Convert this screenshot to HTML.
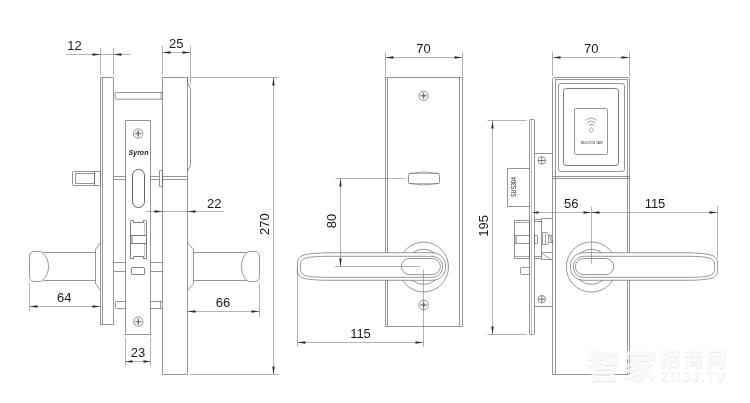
<!DOCTYPE html>
<html lang="zh">
<head>
<meta charset="utf-8">
<title>Syron lock dimensions</title>
<style>
html,body{margin:0;padding:0;background:#fff;}
body{width:750px;height:403px;overflow:hidden;position:relative;}
svg{display:block;position:absolute;left:0;top:0;will-change:transform;}
svg text{font-family:"Liberation Sans","Noto Sans CJK SC",sans-serif;fill:#1a1a1a;stroke:none;}
.wm{position:absolute;left:0;top:0;width:750px;height:403px;font-family:"Liberation Sans","Noto Sans CJK SC",sans-serif;color:rgba(255,255,255,0.8);font-weight:900;text-shadow:0.5px 0.5px 0.4px rgba(0,0,0,0.09),-0.3px -0.3px 0.3px rgba(0,0,0,0.03);line-height:1;white-space:nowrap;will-change:transform;}
.wm span{position:absolute;display:block;}
.wm .a{left:586px;top:349px;font-size:34px;letter-spacing:2px;}
.wm .b{left:659.5px;top:349px;font-size:20.5px;letter-spacing:2.6px;}
.wm .c{left:660px;top:369px;font-size:14.5px;letter-spacing:1.25px;font-weight:bold;}
</style>
</head>
<body>
<svg width="750" height="403" viewBox="0 0 750 403" fill="none" stroke="#505050" stroke-width="0.6" stroke-linecap="butt" stroke-linejoin="round">
<rect x="100.5" y="77.5" width="13" height="247"/>
<line x1="102.5" y1="77.5" x2="102.5" y2="324.5"/>
<path d="M162.5,374.5V77.5H187.5V374.5Z"/>
<path d="M187.5,77.5H187.5V82.5L190.5,88.5V165.5L187.5,171.5"/>
<path d="M162.7,92.5 H116.2 Q115.2,92.5 115.2,93.5 V98.2 Q115.2,99.2 116.2,99.2 H162.7 M161.2,92.5 V99.2"/>
<rect x="125.5" y="120.5" width="25" height="214" fill="#fff"/>
<circle cx="138.1" cy="133.5" r="4.7" stroke-width="0.6" fill="#fff"/>
<path d="M134.9,133.5 H141.29999999999998 M138.1,130.3 V136.7" stroke-width="1.4" stroke="#8a8a8a"/>
<path d="M136.9,133.5 H139.29999999999998 M138.1,130.9 V136.1" stroke-width="0.5" stroke="#555"/>
<circle cx="138.3" cy="321.6" r="4.7" stroke-width="0.6" fill="#fff"/>
<path d="M135.10000000000002,321.6 H141.5 M138.3,318.40000000000003 V324.8" stroke-width="1.4" stroke="#8a8a8a"/>
<path d="M137.10000000000002,321.6 H139.5 M138.3,319.0 V324.20000000000005" stroke-width="0.5" stroke="#555"/>
<text x="138.5" y="154.8" font-size="7" text-anchor="middle" font-weight="bold" font-style="italic" fill="#000" stroke="#000" stroke-width="0.15">Syron</text>
<rect x="132.5" y="169.5" width="12" height="38" rx="5.85" stroke-width="0.9"/>
<path d="M130.5,222.5V221.5Q130.5,220.5,131.5,220.5H133.5V222.5H143.5V220.5H145.5Q146.5,220.5,146.5,221.5V258.5Q146.5,258.5,145.5,258.5H143.5V256.5H133.5V258.5H131.5Q130.5,258.5,130.5,258.5Z" stroke-width="0.75"/>
<line x1="130.4" y1="235.5" x2="146.1" y2="235.5" stroke-width="0.75"/>
<line x1="130.4" y1="243.5" x2="146.1" y2="243.5" stroke-width="0.75"/>
<line x1="131.5" y1="235.6" x2="131.5" y2="243.1" stroke-width="0.4"/>
<line x1="132.5" y1="235.6" x2="132.5" y2="243.1" stroke-width="0.4"/>
<line x1="144.5" y1="222.2" x2="144.5" y2="235.6" stroke-width="0.35"/>
<line x1="144.5" y1="243.1" x2="144.5" y2="256.9" stroke-width="0.35"/>
<rect x="131.5" y="267.5" width="13" height="7" rx="0.8" stroke-width="0.7"/>
<rect x="72.5" y="171.5" width="28" height="14" rx="1"/>
<rect x="75.5" y="173.5" width="19" height="10"/>
<line x1="94.5" y1="171" x2="94.5" y2="185.8"/>
<line x1="113.5" y1="176.5" x2="125.4" y2="176.5"/>
<line x1="150.6" y1="176.5" x2="159.2" y2="176.5"/>
<line x1="162.7" y1="176.5" x2="187.3" y2="176.5"/>
<line x1="113.5" y1="179.5" x2="125.4" y2="179.5"/>
<line x1="150.6" y1="179.5" x2="159.2" y2="179.5"/>
<line x1="162.7" y1="179.5" x2="187.3" y2="179.5"/>
<rect x="159.5" y="170.5" width="3" height="16"/>
<line x1="113.5" y1="262.5" x2="125.4" y2="262.5"/>
<line x1="150.6" y1="262.5" x2="162.7" y2="262.5"/>
<line x1="113.5" y1="271.5" x2="125.4" y2="271.5"/>
<line x1="150.6" y1="271.5" x2="162.7" y2="271.5"/>
<path d="M125.5,301.5 H116.5 Q115.5,301.5 115.5,302.5 V307.5 Q115.5,308.5 116.5,308.5 H125.5"/>
<path d="M150.5,301.5 H162.5 M150.5,308.5 H162.5 M160.5,301.5 V308.5"/>
<path d="M100.5,242.5L95.5,249.5V283.5L100.5,290.5"/>
<path d="M95.5,252.5H43.5M95.5,280.5H43.5"/>
<path d="M34.5,251.5H40.5C44.5,253.5,48.5,259.5,48.5,266.5C48.5,273.5,44.5,279.5,40.5,281.5H34.5Q29.5,281.5,29.5,276.5V256.5Q29.5,251.5,34.5,251.5Z" fill="#fff"/>
<path d="M187.5,242.5L193.5,249.5V283.5L187.5,290.5"/>
<path d="M193.5,252.5H247.5M193.5,280.5H247.5"/>
<path d="M254.5,251.5H248.5C244.5,253.5,241.5,259.5,241.5,266.5C241.5,273.5,244.5,279.5,248.5,281.5H254.5Q259.5,281.5,259.5,276.5V256.5Q259.5,251.5,254.5,251.5Z" fill="#fff"/>
<line x1="100.5" y1="48" x2="100.5" y2="75" stroke-width="0.5" stroke="#666"/>
<line x1="113.5" y1="48" x2="113.5" y2="75" stroke-width="0.5" stroke="#666"/>
<line x1="66" y1="54.5" x2="131" y2="54.5" stroke-width="0.5" stroke="#666"/>
<polygon points="100.5,54.5 92.5,53.3 92.5,55.7" fill="#2a2a2a" stroke="none"/>
<polygon points="113.5,54.5 121.5,53.3 121.5,55.7" fill="#2a2a2a" stroke="none"/>
<text x="74.5" y="50" font-size="13" text-anchor="middle">12</text>
<line x1="162.5" y1="46" x2="162.5" y2="75" stroke-width="0.5" stroke="#666"/>
<line x1="190.5" y1="46" x2="190.5" y2="84" stroke-width="0.5" stroke="#666"/>
<line x1="162.7" y1="52.5" x2="190.3" y2="52.5" stroke-width="0.5" stroke="#666"/>
<polygon points="162.5,52.5 170.5,51.3 170.5,53.7" fill="#2a2a2a" stroke="none"/>
<polygon points="190.5,52.5 182.5,51.3 182.5,53.7" fill="#2a2a2a" stroke="none"/>
<text x="176.3" y="48.4" font-size="13" text-anchor="middle">25</text>
<line x1="190.6" y1="77.5" x2="278.5" y2="77.5" stroke-width="0.5" stroke="#666"/>
<line x1="190" y1="374.5" x2="278.5" y2="374.5" stroke-width="0.5" stroke="#666"/>
<line x1="273.5" y1="77.4" x2="273.5" y2="374.2" stroke-width="0.5" stroke="#666"/>
<polygon points="273.5,77.5 272.3,85.5 274.7,85.5" fill="#2a2a2a" stroke="none"/>
<polygon points="273.5,374.5 272.3,366.5 274.7,366.5" fill="#2a2a2a" stroke="none"/>
<text x="268.8" y="224.2" font-size="13" text-anchor="middle" transform="rotate(-90 268.8 224.2)">270</text>
<line x1="146" y1="211.5" x2="224" y2="211.5" stroke-width="0.5" stroke="#666"/>
<polygon points="162.5,211.5 154.5,210.3 154.5,212.7" fill="#2a2a2a" stroke="none"/>
<polygon points="187.5,211.5 195.5,210.3 195.5,212.7" fill="#2a2a2a" stroke="none"/>
<text x="214.3" y="207.6" font-size="13" text-anchor="middle">22</text>
<line x1="29.5" y1="283" x2="29.5" y2="311" stroke-width="0.5" stroke="#666"/>
<line x1="29.5" y1="306.5" x2="100" y2="306.5" stroke-width="0.5" stroke="#666"/>
<polygon points="29.5,306.5 37.5,305.3 37.5,307.7" fill="#2a2a2a" stroke="none"/>
<polygon points="100.5,306.5 92.5,305.3 92.5,307.7" fill="#2a2a2a" stroke="none"/>
<text x="64.3" y="302.3" font-size="13" text-anchor="middle">64</text>
<line x1="259.5" y1="283" x2="259.5" y2="317" stroke-width="0.5" stroke="#666"/>
<line x1="187.3" y1="311.5" x2="259.6" y2="311.5" stroke-width="0.5" stroke="#666"/>
<polygon points="187.5,311.5 195.5,310.3 195.5,312.7" fill="#2a2a2a" stroke="none"/>
<polygon points="259.5,311.5 251.5,310.3 251.5,312.7" fill="#2a2a2a" stroke="none"/>
<text x="223" y="307.2" font-size="13" text-anchor="middle">66</text>
<line x1="125.5" y1="337.5" x2="125.5" y2="366" stroke-width="0.5" stroke="#666"/>
<line x1="150.5" y1="337.5" x2="150.5" y2="366" stroke-width="0.5" stroke="#666"/>
<line x1="125.4" y1="361.5" x2="150.6" y2="361.5" stroke-width="0.5" stroke="#666"/>
<polygon points="125.5,361.5 132.5,360.3 132.5,362.7" fill="#2a2a2a" stroke="none"/>
<polygon points="150.5,361.5 143.5,360.3 143.5,362.7" fill="#2a2a2a" stroke="none"/>
<text x="138" y="357.2" font-size="13" text-anchor="middle">23</text>
<rect x="385.5" y="77.5" width="77" height="249"/>
<line x1="387.5" y1="77.4" x2="387.5" y2="326"/>
<line x1="459.5" y1="77.4" x2="459.5" y2="326"/>
<circle cx="423.6" cy="95.8" r="4.7" stroke-width="0.6" fill="#fff"/>
<path d="M420.40000000000003,95.8 H426.8 M423.6,92.6 V99.0" stroke-width="1.4" stroke="#8a8a8a"/>
<path d="M422.40000000000003,95.8 H424.8 M423.6,93.2 V98.39999999999999" stroke-width="0.5" stroke="#555"/>
<circle cx="423.6" cy="305" r="4.7" stroke-width="0.6" fill="#fff"/>
<path d="M420.40000000000003,305 H426.8 M423.6,301.8 V308.2" stroke-width="1.4" stroke="#8a8a8a"/>
<path d="M422.40000000000003,305 H424.8 M423.6,302.4 V307.6" stroke-width="0.5" stroke="#555"/>
<path d="M409.5,173.5Q423.5,170.5,438.5,173.5Q439.5,173.5,439.5,175.5V182.5Q439.5,183.5,438.5,183.5Q423.5,186.5,409.5,183.5Q408.5,183.5,408.5,182.5V175.5Q408.5,173.5,409.5,173.5Z" fill="#fff"/>
<path d="M409.5,173.5H438.5M409.5,183.5H438.5" stroke-width="0.4"/>
<circle cx="423.6" cy="267" r="24.9" fill="#fff"/>
<circle cx="423.6" cy="266.8" r="17.5"/>
<path d="M432,252.7 L330,252.7 C318,252.9 308,253.7 303,255.4 C299,256.8 297.4,259.5 297.4,264 V270 C297.4,274 299,276.4 303,278 C308,279.6 318,280.3 330,280.3 L432,280.3 C441,280.3 445.6,273.8 445.6,266.6 C445.6,259.3 441,252.7 432,252.7 Z" fill="#fff"/>
<path d="M431.5,256.3 L330,256.3 C320,256.3 312,256.7 308,257.5 C303,258.6 300.4,260.5 300.4,264.5 V269.5 C300.4,273 303,275.3 308,276.3 C312,277 320,277.3 330,277.3 L431.5,277.3 C439,277.3 442.6,272.3 442.6,266.7 C442.6,261.2 439,256.3 431.5,256.3 Z"/>
<rect x="401.4" y="258.5" width="39" height="16.1" rx="8.05"/>
<line x1="385.5" y1="51.6" x2="385.5" y2="76" stroke-width="0.5" stroke="#666"/>
<line x1="462.5" y1="51.6" x2="462.5" y2="76" stroke-width="0.5" stroke="#666"/>
<line x1="385.6" y1="57.5" x2="462" y2="57.5" stroke-width="0.5" stroke="#666"/>
<polygon points="385.5,57.5 393.5,56.3 393.5,58.7" fill="#2a2a2a" stroke="none"/>
<polygon points="462.5,57.5 454.5,56.3 454.5,58.7" fill="#2a2a2a" stroke="none"/>
<text x="423.6" y="53.4" font-size="13" text-anchor="middle">70</text>
<line x1="335.6" y1="178.5" x2="405" y2="178.5" stroke-width="0.5" stroke="#666"/>
<line x1="340.5" y1="178.4" x2="340.5" y2="266.4" stroke-width="0.5" stroke="#666"/>
<polygon points="340.5,178.5 339.3,186.5 341.7,186.5" fill="#2a2a2a" stroke="none"/>
<polygon points="340.5,266.5 339.3,258.5 341.7,258.5" fill="#2a2a2a" stroke="none"/>
<line x1="335" y1="266.5" x2="420" y2="266.5" stroke-width="0.5" stroke="#666"/>
<text x="336" y="221" font-size="13" text-anchor="middle" transform="rotate(-90 336 221)">80</text>
<line x1="423.5" y1="269.6" x2="423.5" y2="347" stroke-width="0.5" stroke="#666"/>
<line x1="297.5" y1="268" x2="297.5" y2="347" stroke-width="0.5" stroke="#666"/>
<line x1="297" y1="342.5" x2="423.5" y2="342.5" stroke-width="0.5" stroke="#666"/>
<polygon points="297.5,342.5 305.5,341.3 305.5,343.7" fill="#2a2a2a" stroke="none"/>
<polygon points="423.5,342.5 415.5,341.3 415.5,343.7" fill="#2a2a2a" stroke="none"/>
<text x="360.5" y="338" font-size="13" text-anchor="middle">115</text>
<rect x="529.5" y="119.5" width="5" height="215" rx="0.8" fill="#fff"/>
<line x1="531.5" y1="119.8" x2="531.5" y2="334.2" stroke-width="0.35"/>
<path d="M534.5,153.5H552.5M534.5,306.5H552.5"/>
<circle cx="541.8" cy="160.5" r="3.8" stroke-width="0.6" fill="#fff"/>
<path d="M538.0,160.5 H545.5999999999999 M541.8,156.7 V164.3" stroke-width="0.75" stroke="#555"/>
<circle cx="541.8" cy="299.2" r="3.8" stroke-width="0.6" fill="#fff"/>
<path d="M538.0,299.2 H545.5999999999999 M541.8,295.4 V303.0" stroke-width="0.75" stroke="#555"/>
<path d="M529.5,168.5H507.5V206.5H529.5"/>
<text x="515.9" y="187" font-size="6.6" text-anchor="middle" transform="rotate(-90 515.9 187)" textLength="20" lengthAdjust="spacingAndGlyphs" fill="#333">SUS304</text>
<rect x="514.5" y="220.5" width="15" height="38"/>
<line x1="514.3" y1="222.5" x2="529.7" y2="222.5" stroke-width="0.45"/>
<line x1="514.3" y1="256.5" x2="529.7" y2="256.5" stroke-width="0.45"/>
<line x1="514.3" y1="235.5" x2="529.7" y2="235.5"/>
<line x1="514.3" y1="243.5" x2="529.7" y2="243.5"/>
<line x1="515.5" y1="235.6" x2="515.5" y2="243" stroke-width="0.4"/>
<line x1="516.5" y1="235.6" x2="516.5" y2="243" stroke-width="0.4"/>
<path d="M529.5,267.5H521.5Q520.5,267.5,520.5,268.5V273.5Q520.5,274.5,521.5,274.5H529.5"/>
<path d="M534.5,219.5H541.5M534.5,221.5H541.5M534.5,256.5H541.5M534.5,258.5H541.5M541.5,218.5V259.5M541.5,218.5H552.5M541.5,259.5H552.5"/>
<rect x="534.5" y="235.5" width="3" height="8" rx="0.5"/>
<path d="M542.5,232.5H546.5Q548.5,232.5,548.5,235.5V242.5Q548.5,244.5,546.5,244.5H542.5ZM545.5,233.5V244.5M548.5,235.5H552.5M548.5,242.5H552.5M549.5,235.5L551.5,242.5M551.5,235.5L552.5,242.5M541.5,252.5H552.5M541.5,253.5L551.5,259.5" stroke-width="0.55"/>
<path d="M554.5,77.5H627.5Q629.5,77.5,629.5,79.5V374.5H552.5V79.5Q552.5,77.5,554.5,77.5Z"/>
<path d="M555.5,374.5V79.5H627.5V374.5"/>
<line x1="552.6" y1="176.5" x2="629.7" y2="176.5"/>
<line x1="552.6" y1="178.5" x2="629.7" y2="178.5"/>
<rect x="558.5" y="83.5" width="66" height="88" rx="2.5"/>
<rect x="563.5" y="88.5" width="55" height="77" rx="2.8" stroke-width="0.75"/>
<rect x="574.5" y="108.5" width="33" height="46" rx="1.2"/>
<path d="M585.6,120.4 Q591.2,115.8 596.8,120.4 M587.2,123 Q591.2,119.4 595.2,123 M588.8,125.4 Q591.2,123 593.6,125.4" stroke-width="0.55"/>
<path d="M591.2,127.6 L593.6,130.1 L591.2,132.6 L588.8,130.1 Z" stroke-width="0.5"/>
<text x="592" y="144.3" font-size="3.3" text-anchor="middle" textLength="22.5" lengthAdjust="spacingAndGlyphs" fill="#444">INDUCTION CARD</text>
<circle cx="591.4" cy="267" r="25.1" fill="#fff"/>
<circle cx="591.4" cy="266.8" r="17.5"/>
<path d="M584,252.7 L686,252.7 C698,252.9 707,253.7 712,255.4 C716,256.8 717.6,259.5 717.6,264 V270 C717.6,274 716,276.4 712,278 C707,279.6 698,280.3 686,280.3 L584,280.3 C575,280.3 570.4,273.8 570.4,266.6 C570.4,259.3 575,252.7 584,252.7 Z" fill="#fff"/>
<path d="M584.5,256.3 L686,256.3 C696,256.3 703,256.7 707,257.5 C712,258.6 714.6,260.5 714.6,264.5 V269.5 C714.6,273 712,275.3 707,276.3 C703,277 696,277.3 686,277.3 L584.5,277.3 C577,277.3 573.4,272.3 573.4,266.7 C573.4,261.2 577,256.3 584.5,256.3 Z"/>
<rect x="575.4" y="258.5" width="38.4" height="16.1" rx="8.05"/>
<line x1="552.5" y1="51.6" x2="552.5" y2="76" stroke-width="0.5" stroke="#666"/>
<line x1="629.5" y1="51.6" x2="629.5" y2="76" stroke-width="0.5" stroke="#666"/>
<line x1="552.4" y1="57.5" x2="629.4" y2="57.5" stroke-width="0.5" stroke="#666"/>
<polygon points="552.5,57.5 560.5,56.3 560.5,58.7" fill="#2a2a2a" stroke="none"/>
<polygon points="629.5,57.5 621.5,56.3 621.5,58.7" fill="#2a2a2a" stroke="none"/>
<text x="591.2" y="53.4" font-size="13" text-anchor="middle">70</text>
<line x1="487.5" y1="120.5" x2="526.6" y2="120.5" stroke-width="0.5" stroke="#666"/>
<line x1="487.5" y1="334.5" x2="526.6" y2="334.5" stroke-width="0.5" stroke="#666"/>
<line x1="492.5" y1="120.2" x2="492.5" y2="334.2" stroke-width="0.5" stroke="#666"/>
<polygon points="492.5,120.5 491.3,128.5 493.7,128.5" fill="#2a2a2a" stroke="none"/>
<polygon points="492.5,334.5 491.3,326.5 493.7,326.5" fill="#2a2a2a" stroke="none"/>
<text x="488.3" y="225.8" font-size="13" text-anchor="middle" transform="rotate(-90 488.3 225.8)">195</text>
<line x1="532" y1="212.5" x2="718" y2="212.5" stroke-width="0.5" stroke="#666"/>
<line x1="591.5" y1="206.6" x2="591.5" y2="263.7" stroke-width="0.5" stroke="#666"/>
<line x1="717.5" y1="206" x2="717.5" y2="258" stroke-width="0.5" stroke="#666"/>
<polygon points="532.5,212.5 538.5,211.3 538.5,213.7" fill="#2a2a2a" stroke="none"/>
<polygon points="591.5,212.5 583.5,211.3 583.5,213.7" fill="#2a2a2a" stroke="none"/>
<polygon points="591.5,212.5 599.5,211.3 599.5,213.7" fill="#2a2a2a" stroke="none"/>
<polygon points="717.5,212.5 709.5,211.3 709.5,213.7" fill="#2a2a2a" stroke="none"/>
<text x="571.2" y="208" font-size="13" text-anchor="middle">56</text>
<text x="655" y="208" font-size="13" text-anchor="middle">115</text>
</svg>
<div class="wm"><span class="a">智家</span><span class="b">招商网</span><span class="c">ZNJJ.TV</span></div>
</body>
</html>
